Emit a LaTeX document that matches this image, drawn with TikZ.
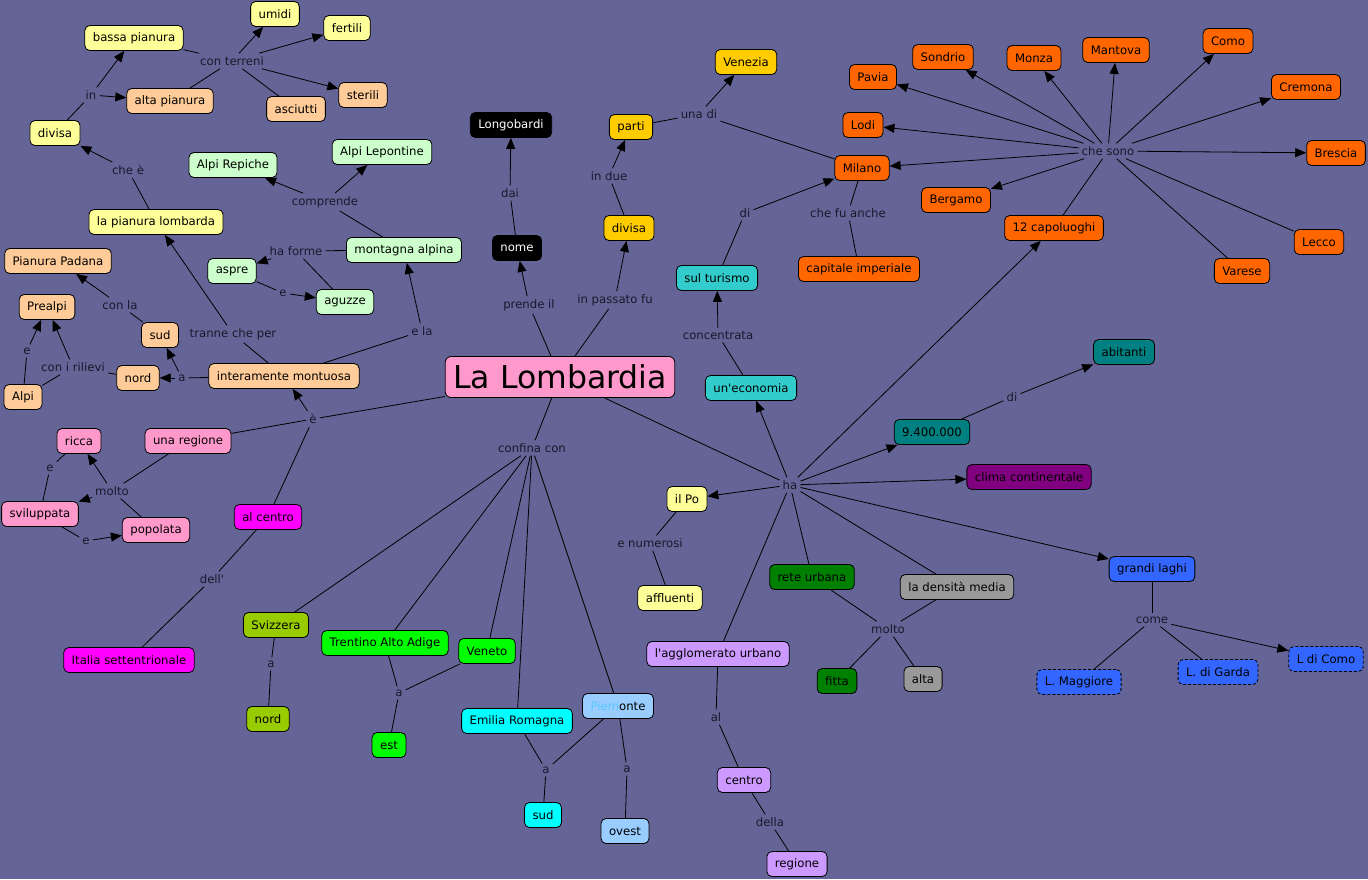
\documentclass[tikz,border=0pt]{standalone}
\usepackage{fontspec}
\setmainfont{DejaVu Sans}
\usetikzlibrary{arrows.meta}
\definecolor{bgc}{RGB}{100,100,150}
\definecolor{lblc}{RGB}{25,25,45}
\definecolor{cYel}{HTML}{FFFF99}
\definecolor{cPea}{HTML}{FFCC99}
\definecolor{cLgr}{HTML}{CCFFCC}
\definecolor{cPnk}{HTML}{FF99CC}
\definecolor{cMag}{HTML}{FF00FF}
\definecolor{cGld}{HTML}{FFCC00}
\definecolor{cTur}{HTML}{33CCCC}
\definecolor{cOra}{HTML}{FF6600}
\definecolor{cTea}{HTML}{008080}
\definecolor{cPur}{HTML}{800080}
\definecolor{cBlu}{HTML}{3366FF}
\definecolor{cDgr}{HTML}{008000}
\definecolor{cGry}{HTML}{999999}
\definecolor{cLav}{HTML}{CC99FF}
\definecolor{cYgr}{HTML}{99CC00}
\definecolor{cBgr}{HTML}{00FF00}
\definecolor{cCya}{HTML}{00FFFF}
\definecolor{cLbl}{HTML}{99CCFF}
\definecolor{cPiem}{RGB}{90,200,255}
\begin{document}
\begin{tikzpicture}[x=1pt,y=-1pt,
  cpt/.style={draw=black, line width=0.8pt, rounded corners=5pt, minimum height=25pt,
    inner xsep=8pt, inner ysep=0pt, font=\fontsize{11.7}{14}\selectfont, text=black},
  dsh/.style={cpt, dash pattern=on 3pt off 2pt},
  lnk/.style={inner sep=3pt, font=\fontsize{11.7}{14}\selectfont, text=lblc},
  ln/.style={line width=0.8pt, draw=black},
  ar/.style={ln, -{Triangle[length=11pt,width=9pt]}},
]
\fill[bgc] (0,0) rectangle (1368,879);
\useasboundingbox (0,0) rectangle (1368,879);

% ---------- concepts ----------
\node[cpt, fill=cYel] (bassa) at (134,38) {bassa pianura};
\node[cpt, fill=cYel] (umidi) at (275,14) {umidi};
\node[cpt, fill=cYel] (fertili) at (347,28) {fertili};
\node[cpt, fill=cPea] (alta) at (170,101) {alta pianura};
\node[cpt, fill=cPea] (asciutti) at (296,109) {asciutti};
\node[cpt, fill=cPea] (sterili) at (363,95) {sterili};
\node[cpt, fill=cYel] (divL) at (55,133) {divisa};
\node[cpt, fill=cLgr] (repiche) at (233,165) {Alpi Repiche};
\node[cpt, fill=cLgr] (lepontine) at (382,152) {Alpi Lepontine};
\node[cpt, fill=cYel] (pianura) at (156,222) {la pianura lombarda};
\node[cpt, fill=cLgr] (montagna) at (404,250) {montagna alpina};
\node[cpt, fill=cLgr] (aspre) at (232,271) {aspre};
\node[cpt, fill=cLgr] (aguzze) at (345,302) {aguzze};
\node[cpt, fill=cPea] (padana) at (58,261) {Pianura Padana};
\node[cpt, fill=cPea] (prealpi) at (47,307) {Prealpi};
\node[cpt, fill=cPea] (sudL) at (160,335) {sud};
\node[cpt, fill=cPea] (nordL) at (138,378) {nord};
\node[cpt, fill=cPea] (alpi) at (23,397) {Alpi};
\node[cpt, fill=cPea] (montuosa) at (284,376) {interamente montuosa};
\node[cpt, fill=cPnk] (unareg) at (188,441) {una regione};
\node[cpt, fill=cPnk] (ricca) at (79,441) {ricca};
\node[cpt, fill=cPnk] (svil) at (40,514) {sviluppata};
\node[cpt, fill=cPnk] (popolata) at (156,530) {popolata};
\node[cpt, fill=cMag] (alcentro) at (268,517) {al centro};
\node[cpt, fill=cMag] (italia) at (129,660) {Italia settentrionale};
\node[cpt, fill=black, text=white] (longo) at (511,125) {Longobardi};
\node[cpt, fill=black, text=white] (nome) at (517,248) {nome};
\node[cpt, fill=cPnk, rounded corners=6pt, minimum height=41pt, font=\fontsize{31.5}{36}\selectfont] (lomb) at (560,377) {La Lombardia};
\node[cpt, fill=cGld] (parti) at (631,127) {parti};
\node[cpt, fill=cGld] (venezia) at (746,62) {Venezia};
\node[cpt, fill=cGld] (divG) at (629,228) {divisa};
\node[cpt, fill=cTur] (turismo) at (717,278) {sul turismo};
\node[cpt, fill=cTur] (economia) at (751,388) {un\textquotesingle economia};
\node[cpt, fill=cOra] (milano) at (862,168) {Milano};
\node[cpt, fill=cOra] (capitale) at (859,269) {capitale imperiale};
\node[cpt, fill=cOra] (pavia) at (873,77) {Pavia};
\node[cpt, fill=cOra] (sondrio) at (943,57) {Sondrio};
\node[cpt, fill=cOra] (monza) at (1034,58) {Monza};
\node[cpt, fill=cOra] (mantova) at (1116,50) {Mantova};
\node[cpt, fill=cOra] (como) at (1228,41) {Como};
\node[cpt, fill=cOra] (cremona) at (1306,87) {Cremona};
\node[cpt, fill=cOra] (lodi) at (863,125) {Lodi};
\node[cpt, fill=cOra] (brescia) at (1336,153) {Brescia};
\node[cpt, fill=cOra] (bergamo) at (956,200) {Bergamo};
\node[cpt, fill=cOra] (capol) at (1054,228) {12 capoluoghi};
\node[cpt, fill=cOra] (lecco) at (1319,242) {Lecco};
\node[cpt, fill=cOra] (varese) at (1242,271) {Varese};
\node[cpt, fill=cTea] (abitanti) at (1124,352) {abitanti};
\node[cpt, fill=cTea] (num) at (932,432) {9.400.000};
\node[cpt, fill=cPur] (clima) at (1029,477) {clima continentale};
\node[cpt, fill=cYel] (po) at (687,499) {il Po};
\node[cpt, fill=cYel] (affluenti) at (670,598) {affluenti};
\node[cpt, fill=cBlu] (laghi) at (1152,569) {grandi laghi};
\node[cpt, fill=cDgr] (rete) at (812,577) {rete urbana};
\node[cpt, fill=cGry] (densita) at (957,587) {la densità media};
\node[cpt, fill=cLav] (agglom) at (718,654) {l\textquotesingle agglomerato urbano};
\node[cpt, fill=cDgr] (fitta) at (837,681) {fitta};
\node[cpt, fill=cGry] (altaG) at (923,679) {alta};
\node[cpt, fill=cLav] (centro) at (744,780) {centro};
\node[cpt, fill=cLav] (regioneP) at (797,864) {regione};
\node[dsh, fill=cBlu] (maggiore) at (1079,682) {L. Maggiore};
\node[dsh, fill=cBlu] (garda) at (1218,672) {L. di Garda};
\node[dsh, fill=cBlu] (lcomo) at (1326,659) {L di Como};
\node[cpt, fill=cYgr] (svizzera) at (276,625) {Svizzera};
\node[cpt, fill=cYgr] (nordS) at (268,719) {nord};
\node[cpt, fill=cBgr] (trentino) at (385,643) {Trentino Alto Adige};
\node[cpt, fill=cBgr] (veneto) at (487,651) {Veneto};
\node[cpt, fill=cBgr] (est) at (389,745) {est};
\node[cpt, fill=cCya] (emilia) at (517,721) {Emilia Romagna};
\node[cpt, fill=cLbl] (piemonte) at (618,706) {{\color{cPiem}Piem}onte};
\node[cpt, fill=cCya] (sudE) at (543,815) {sud};
\node[cpt, fill=cLbl] (ovest) at (625,831) {ovest};

% ---------- linking phrases ----------
\node[lnk] (Lcont) at (232,61) {con terreni};
\node[lnk] (Lin) at (91,95) {in};
\node[lnk] (Lchee) at (128,170) {che è};
\node[lnk] (Lcompr) at (325,202) {comprende};
\node[lnk] (Lforme) at (296,251) {ha forme};
\node[lnk] (Le1) at (283,293) {e};
\node[lnk] (Lconla) at (120,305) {con la};
\node[lnk] (Ltranne) at (233,334) {tranne che per};
\node[lnk] (Le2) at (27,351) {e};
\node[lnk] (Lril) at (73,367) {con i rilievi};
\node[lnk] (La1) at (182,378) {a};
\node[lnk] (Lela) at (422,331) {e la};
\node[lnk] (Le) at (313,419) {è};
\node[lnk] (Lmolto1) at (112,491) {molto};
\node[lnk] (Le3) at (50,468) {e};
\node[lnk] (Le4) at (86,541) {e};
\node[lnk] (Ldell) at (212,579) {dell\textquotesingle};
\node[lnk] (Lprende) at (529,305) {prende il};
\node[lnk] (Lpassato) at (615,300) {in passato fu};
\node[lnk] (Ldai) at (510,193) {dai};
\node[lnk] (Ldue) at (609,176) {in due};
\node[lnk] (Lunadi) at (699,114) {una di};
\node[lnk] (Ldi1) at (745,213) {di};
\node[lnk] (Lfu) at (848,213) {che fu anche};
\node[lnk] (Lsono) at (1108,151) {che sono};
\node[lnk] (Lconc) at (718,335) {concentrata};
\node[lnk] (Lconf) at (532,448) {confina con};
\node[lnk] (Lha) at (790,485) {ha};
\node[lnk] (Ldi2) at (1012,397) {di};
\node[lnk] (Lnum) at (650,543) {e numerosi};
\node[lnk] (Lmolto2) at (888,629) {molto};
\node[lnk] (Lcome) at (1152,620) {come};
\node[lnk] (Lal) at (716,717) {al};
\node[lnk] (Ldella) at (770,822) {della};
\node[lnk] (La2) at (271,664) {a};
\node[lnk] (La3) at (399,693) {a};
\node[lnk] (La4) at (546,770) {a};
\node[lnk] (La5) at (627,769) {a};

% ---------- connectors ----------
\draw[ln] (bassa) -- (Lcont);
\draw[ln] (alta) -- (Lcont);
\draw[ar] (Lcont) -- (umidi);
\draw[ar] (Lcont) -- (fertili);
\draw[ar] (Lcont) -- (sterili);
\draw[ln] (Lcont) -- (asciutti);
\draw[ln] (divL) -- (Lin);
\draw[ar] (Lin) -- (bassa);
\draw[ar] (Lin) -- (alta);
\draw[ln] (pianura) -- (Lchee);
\draw[ar] (Lchee) -- (divL);
\draw[ln] (montuosa) -- (Ltranne);
\draw[ar] (Ltranne) -- (pianura);
\draw[ln] (montagna) -- (Lcompr);
\draw[ar] (Lcompr) -- (repiche);
\draw[ar] (Lcompr) -- (lepontine);
\draw[ln] (montagna) -- (Lforme);
\draw[ar] (Lforme) -- (aspre);
\draw[ln] (Lforme) -- (aguzze);
\draw[ln] (aspre) -- (Le1);
\draw[ar] (Le1) -- (aguzze);
\draw[ln] (montuosa) -- (Lela);
\draw[ar] (Lela) -- (montagna);
\draw[ln] (sudL) -- (Lconla);
\draw[ar] (Lconla) -- (padana);
\draw[ln] (nordL) -- (Lril);
\draw[ar] (Lril) -- (prealpi);
\draw[ln] (Lril) -- (alpi);
\draw[ln] (alpi) -- (Le2);
\draw[ar] (Le2) -- (prealpi);
\draw[ln] (montuosa) -- (La1);
\draw[ar] (La1) -- (nordL);
\draw[ar] (La1) -- (sudL);
\draw[ln] (lomb) -- (Le);
\draw[ar] (Le) -- (montuosa);
\draw[ln] (Le) -- (unareg);
\draw[ln] (Le) -- (alcentro);
\draw[ln] (unareg) -- (Lmolto1);
\draw[ar] (Lmolto1) -- (ricca);
\draw[ar] (Lmolto1) -- (svil);
\draw[ln] (Lmolto1) -- (popolata);
\draw[ln] (ricca) -- (Le3);
\draw[ln] (Le3) -- (svil);
\draw[ln] (svil) -- (Le4);
\draw[ar] (Le4) -- (popolata);
\draw[ln] (alcentro) -- (Ldell);
\draw[ln] (Ldell) -- (italia);
\draw[ln] (lomb) -- (Lprende);
\draw[ar] (Lprende) -- (nome);
\draw[ln] (nome) -- (Ldai);
\draw[ar] (Ldai) -- (longo);
\draw[ln] (lomb) -- (Lpassato);
\draw[ar] (Lpassato) -- (divG);
\draw[ln] (divG) -- (Ldue);
\draw[ar] (Ldue) -- (parti);
\draw[ln] (parti) -- (Lunadi);
\draw[ar] (Lunadi) -- (venezia);
\draw[ln] (milano) -- (Lunadi);
\draw[ln] (economia) -- (Lconc);
\draw[ar] (Lconc) -- (turismo);
\draw[ln] (turismo) -- (Ldi1);
\draw[ar] (Ldi1) -- (milano);
\draw[ln] (milano) -- (Lfu);
\draw[ln] (Lfu) -- (capitale);
\draw[ln] (capol) -- (Lsono);
\foreach \t in {pavia,sondrio,monza,mantova,como,cremona,lodi,milano,brescia,bergamo}
  \draw[ar] (Lsono) -- (\t);
\draw[ln] (Lsono) -- (lecco);
\draw[ln] (Lsono) -- (varese);
\draw[ln] (lomb) -- (Lha);
\foreach \t in {capol,economia,num,clima,po,laghi}
  \draw[ar] (Lha) -- (\t);
\draw[ln] (Lha) -- (rete);
\draw[ln] (Lha) -- (densita);
\draw[ln] (Lha) -- (agglom);
\draw[ln] (num) -- (Ldi2);
\draw[ar] (Ldi2) -- (abitanti);
\draw[ln] (po) -- (Lnum);
\draw[ln] (Lnum) -- (affluenti);
\draw[ln] (rete) -- (Lmolto2);
\draw[ln] (densita) -- (Lmolto2);
\draw[ln] (Lmolto2) -- (fitta);
\draw[ln] (Lmolto2) -- (altaG);
\draw[ln] (laghi) -- (Lcome);
\draw[ln] (Lcome) -- (maggiore);
\draw[ln] (Lcome) -- (garda);
\draw[ar] (Lcome) -- (lcomo);
\draw[ln] (agglom) -- (Lal);
\draw[ln] (Lal) -- (centro);
\draw[ln] (centro) -- (Ldella);
\draw[ln] (Ldella) -- (regioneP);
\draw[ln] (lomb) -- (Lconf);
\foreach \t in {svizzera,trentino,veneto,emilia,piemonte}
  \draw[ln] (Lconf) -- (\t);
\draw[ln] (svizzera) -- (La2);
\draw[ln] (La2) -- (nordS);
\draw[ln] (trentino) -- (La3);
\draw[ln] (veneto) -- (La3);
\draw[ln] (La3) -- (est);
\draw[ln] (emilia) -- (La4);
\draw[ln] (piemonte) -- (La4);
\draw[ln] (La4) -- (sudE);
\draw[ln] (piemonte) -- (La5);
\draw[ln] (La5) -- (ovest);
\end{tikzpicture}
\end{document}
